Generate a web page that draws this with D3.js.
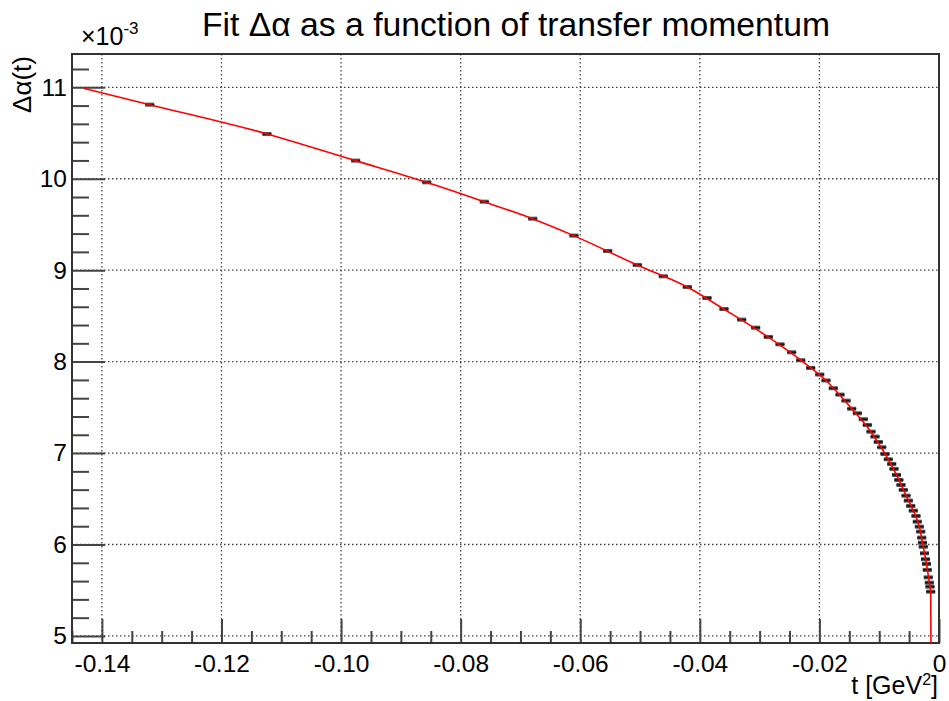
<!DOCTYPE html>
<html>
<head>
<meta charset="utf-8">
<script src="https://cdn.jsdelivr.net/npm/d3@7"></script>
<style>
  body { margin: 0; background: #fff; }
  svg { display: block; }
  text { font-family: "Liberation Sans", Arial, Helvetica, sans-serif; fill: #000; }
</style>
</head>
<body>
<svg id="chart" width="949" height="701"></svg>
<script>
// Measured Δα(t) points (units of 1e-3) versus transfer momentum t [GeV^2]
const tValues = [
  -0.1320, -0.1124, -0.09756, -0.08568, -0.07605, -0.06795, -0.06105, -0.05541,
  -0.05046, -0.04611, -0.04210, -0.03880, -0.03596, -0.03300, -0.03066, -0.02855,
  -0.02659, -0.02464, -0.02313, -0.02146, -0.01995, -0.01890, -0.01768, -0.01656,
  -0.01555, -0.01460, -0.01366, -0.01266, -0.01199, -0.01137, -0.01070, -0.01015,
  -0.00958, -0.00903, -0.00848, -0.00791, -0.00753, -0.00711, -0.00672, -0.00636,
  -0.00597, -0.00552, -0.00513, -0.00473, -0.00430, -0.00385, -0.00363, -0.00329,
  -0.00306, -0.00289, -0.00276, -0.00263, -0.00243, -0.00226, -0.00209, -0.00196,
  -0.00179, -0.00162, -0.00151, -0.00139
];
const alphaValues = [
  10.81, 10.489, 10.198, 9.961, 9.749, 9.563, 9.378, 9.210,
  9.057, 8.933, 8.816, 8.696, 8.575, 8.459, 8.371, 8.270,
  8.189, 8.102, 8.015, 7.931, 7.859, 7.794, 7.709, 7.639,
  7.573, 7.485, 7.435, 7.370, 7.307, 7.234, 7.180, 7.121,
  7.063, 6.990, 6.932, 6.881, 6.827, 6.761, 6.706, 6.651,
  6.597, 6.534, 6.480, 6.422, 6.370, 6.312, 6.250, 6.195,
  6.141, 6.075, 6.020, 5.976, 5.904, 5.839, 5.788, 5.722,
  5.641, 5.583, 5.539, 5.484
];
const tError = 0.00075;
const alphaError = 0.022;

// Fitted curve, sampled along its length
const fitT = [
  -0.1431, -0.1320, -0.1124, -0.0976, -0.0857, -0.0761, -0.0680, -0.0611,
  -0.0505, -0.0421, -0.0360, -0.0286, -0.0231, -0.0189, -0.0146, -0.0114,
  -0.0090, -0.0071, -0.0055, -0.0043, -0.0033, -0.00263, -0.00209, -0.00170,
  -0.00150, -0.00139, -0.00136, -0.00134
];
const fitAlpha = [
  10.99, 10.81, 10.49, 10.198, 9.961, 9.749, 9.563, 9.378,
  9.057, 8.816, 8.575, 8.270, 8.015, 7.794, 7.485, 7.234,
  6.990, 6.761, 6.534, 6.370, 6.195, 5.976, 5.788, 5.62,
  5.54, 5.48, 5.15, 4.92
];

const xTicks = [-0.14, -0.12, -0.10, -0.08, -0.06, -0.04, -0.02, 0];
const xTickLabels = ["-0.14", "-0.12", "-0.10", "-0.08", "-0.06", "-0.04", "-0.02", "0"];
const yTicks = [5, 6, 7, 8, 9, 10, 11];
const yTickLabels = ["5", "6", "7", "8", "9", "10", "11"];
const xDomain = [-0.145, 0];
const yDomain = [4.923, 11.364];

const svg = d3.select("#chart");
const frame = { left: 72, right: 939, top: 54, bottom: 643 };

const x = d3.scaleLinear().domain(xDomain).range([frame.left, frame.right]);
const y = d3.scaleLinear().domain(yDomain).range([frame.bottom, frame.top]);

// minor tick positions
const xMinor = d3.range(-0.145, 0.0001, 0.005).map(v => +v.toFixed(3))
  .filter(v => !xTicks.some(m => Math.abs(m - v) < 1e-6));
const yMinor = d3.range(5, 11.3, 0.2).map(v => +v.toFixed(1))
  .filter(v => !yTicks.includes(v) && v <= yDomain[1]);

// dotted grid
const grid = svg.append("g").attr("stroke", "#444").attr("stroke-width", 1.3)
  .attr("stroke-dasharray", "1.5,2.5").attr("fill", "none");
grid.selectAll("line.gx").data(xTicks).join("line")
  .attr("x1", d => x(d)).attr("x2", d => x(d))
  .attr("y1", frame.top).attr("y2", frame.bottom);
grid.selectAll("line.gy").data(yTicks).join("line")
  .attr("x1", frame.left).attr("x2", frame.right)
  .attr("y1", d => y(d)).attr("y2", d => y(d));

// axes (ticks pointing into the frame)
svg.append("g").attr("transform", `translate(0,${frame.bottom})`)
  .call(d3.axisBottom(x).tickValues(xTicks).tickSizeInner(-24).tickSizeOuter(0)
    .tickPadding(12).tickFormat((d, i) => xTickLabels[i]));
svg.append("g").attr("transform", `translate(0,${frame.bottom})`)
  .call(d3.axisBottom(x).tickValues(xMinor).tickSizeInner(-12).tickSizeOuter(0).tickFormat(""));
svg.append("g").attr("transform", `translate(${frame.left},0)`)
  .call(d3.axisLeft(y).tickValues(yTicks).tickSizeInner(-33).tickSizeOuter(0)
    .tickPadding(5).tickFormat((d, i) => yTickLabels[i]));
svg.append("g").attr("transform", `translate(${frame.left},0)`)
  .call(d3.axisLeft(y).tickValues(yMinor).tickSizeInner(-17).tickSizeOuter(0).tickFormat(""));

svg.selectAll(".domain").remove();
svg.selectAll(".tick line").attr("stroke", "#444").attr("stroke-width", 2);
svg.selectAll(".tick text").attr("font-size", 24.5).attr("fill", "#000")
  .style("font-family", "'Liberation Sans', Arial, sans-serif");

// frame
svg.append("path")
  .attr("d", `M${frame.left},${frame.top}H${frame.right}V${frame.bottom}H${frame.left}Z`)
  .attr("fill", "none").attr("stroke", "#333").attr("stroke-width", 2);

// data points with error boxes
const pts = tValues.map((t, i) => ({ t, a: alphaValues[i] }));
const pg = svg.append("g");
pg.selectAll("rect").data(pts).join("rect")
  .attr("x", d => x(d.t - tError))
  .attr("width", d => x(d.t + tError) - x(d.t - tError))
  .attr("y", d => y(d.a + alphaError))
  .attr("height", d => y(d.a - alphaError) - y(d.a + alphaError))
  .attr("fill", "#555");
pg.selectAll("line").data(pts).join("line")
  .attr("x1", d => x(d.t - tError)).attr("x2", d => x(d.t + tError))
  .attr("y1", d => y(d.a)).attr("y2", d => y(d.a))
  .attr("stroke", "#111").attr("stroke-width", 1.6);

// fit curve
svg.append("clipPath").attr("id", "frameClip").append("rect")
  .attr("x", frame.left).attr("y", frame.top)
  .attr("width", frame.right - frame.left).attr("height", frame.bottom - frame.top);
const fitPts = fitT.map((t, i) => [t, fitAlpha[i]]);
svg.append("path").datum(fitPts)
  .attr("clip-path", "url(#frameClip)")
  .attr("d", d3.line().x(d => x(d[0])).y(d => y(d[1])).curve(d3.curveMonotoneX))
  .attr("fill", "none").attr("stroke", "#ff0000").attr("stroke-width", 1.6);

// titles
svg.append("text").attr("x", 516).attr("y", 36).attr("text-anchor", "middle")
  .attr("font-size", 33.7).text("Fit Δα as a function of transfer momentum");

const exp = svg.append("text").attr("x", 81).attr("y", 45).attr("font-size", 25);
exp.append("tspan").text("×10");
exp.append("tspan").attr("font-size", 17).attr("dy", -11).text("-3");

svg.append("text").attr("transform", "translate(31,56) rotate(-90)")
  .attr("text-anchor", "end").attr("font-size", 26).text("Δα(t)");

const xt = svg.append("text").attr("x", 938).attr("y", 694)
  .attr("text-anchor", "end").attr("font-size", 25);
xt.append("tspan").text("t [GeV");
xt.append("tspan").attr("font-size", 16).attr("dy", -9).text("2");
xt.append("tspan").attr("dy", 9).text("]");
</script>
</body>
</html>
